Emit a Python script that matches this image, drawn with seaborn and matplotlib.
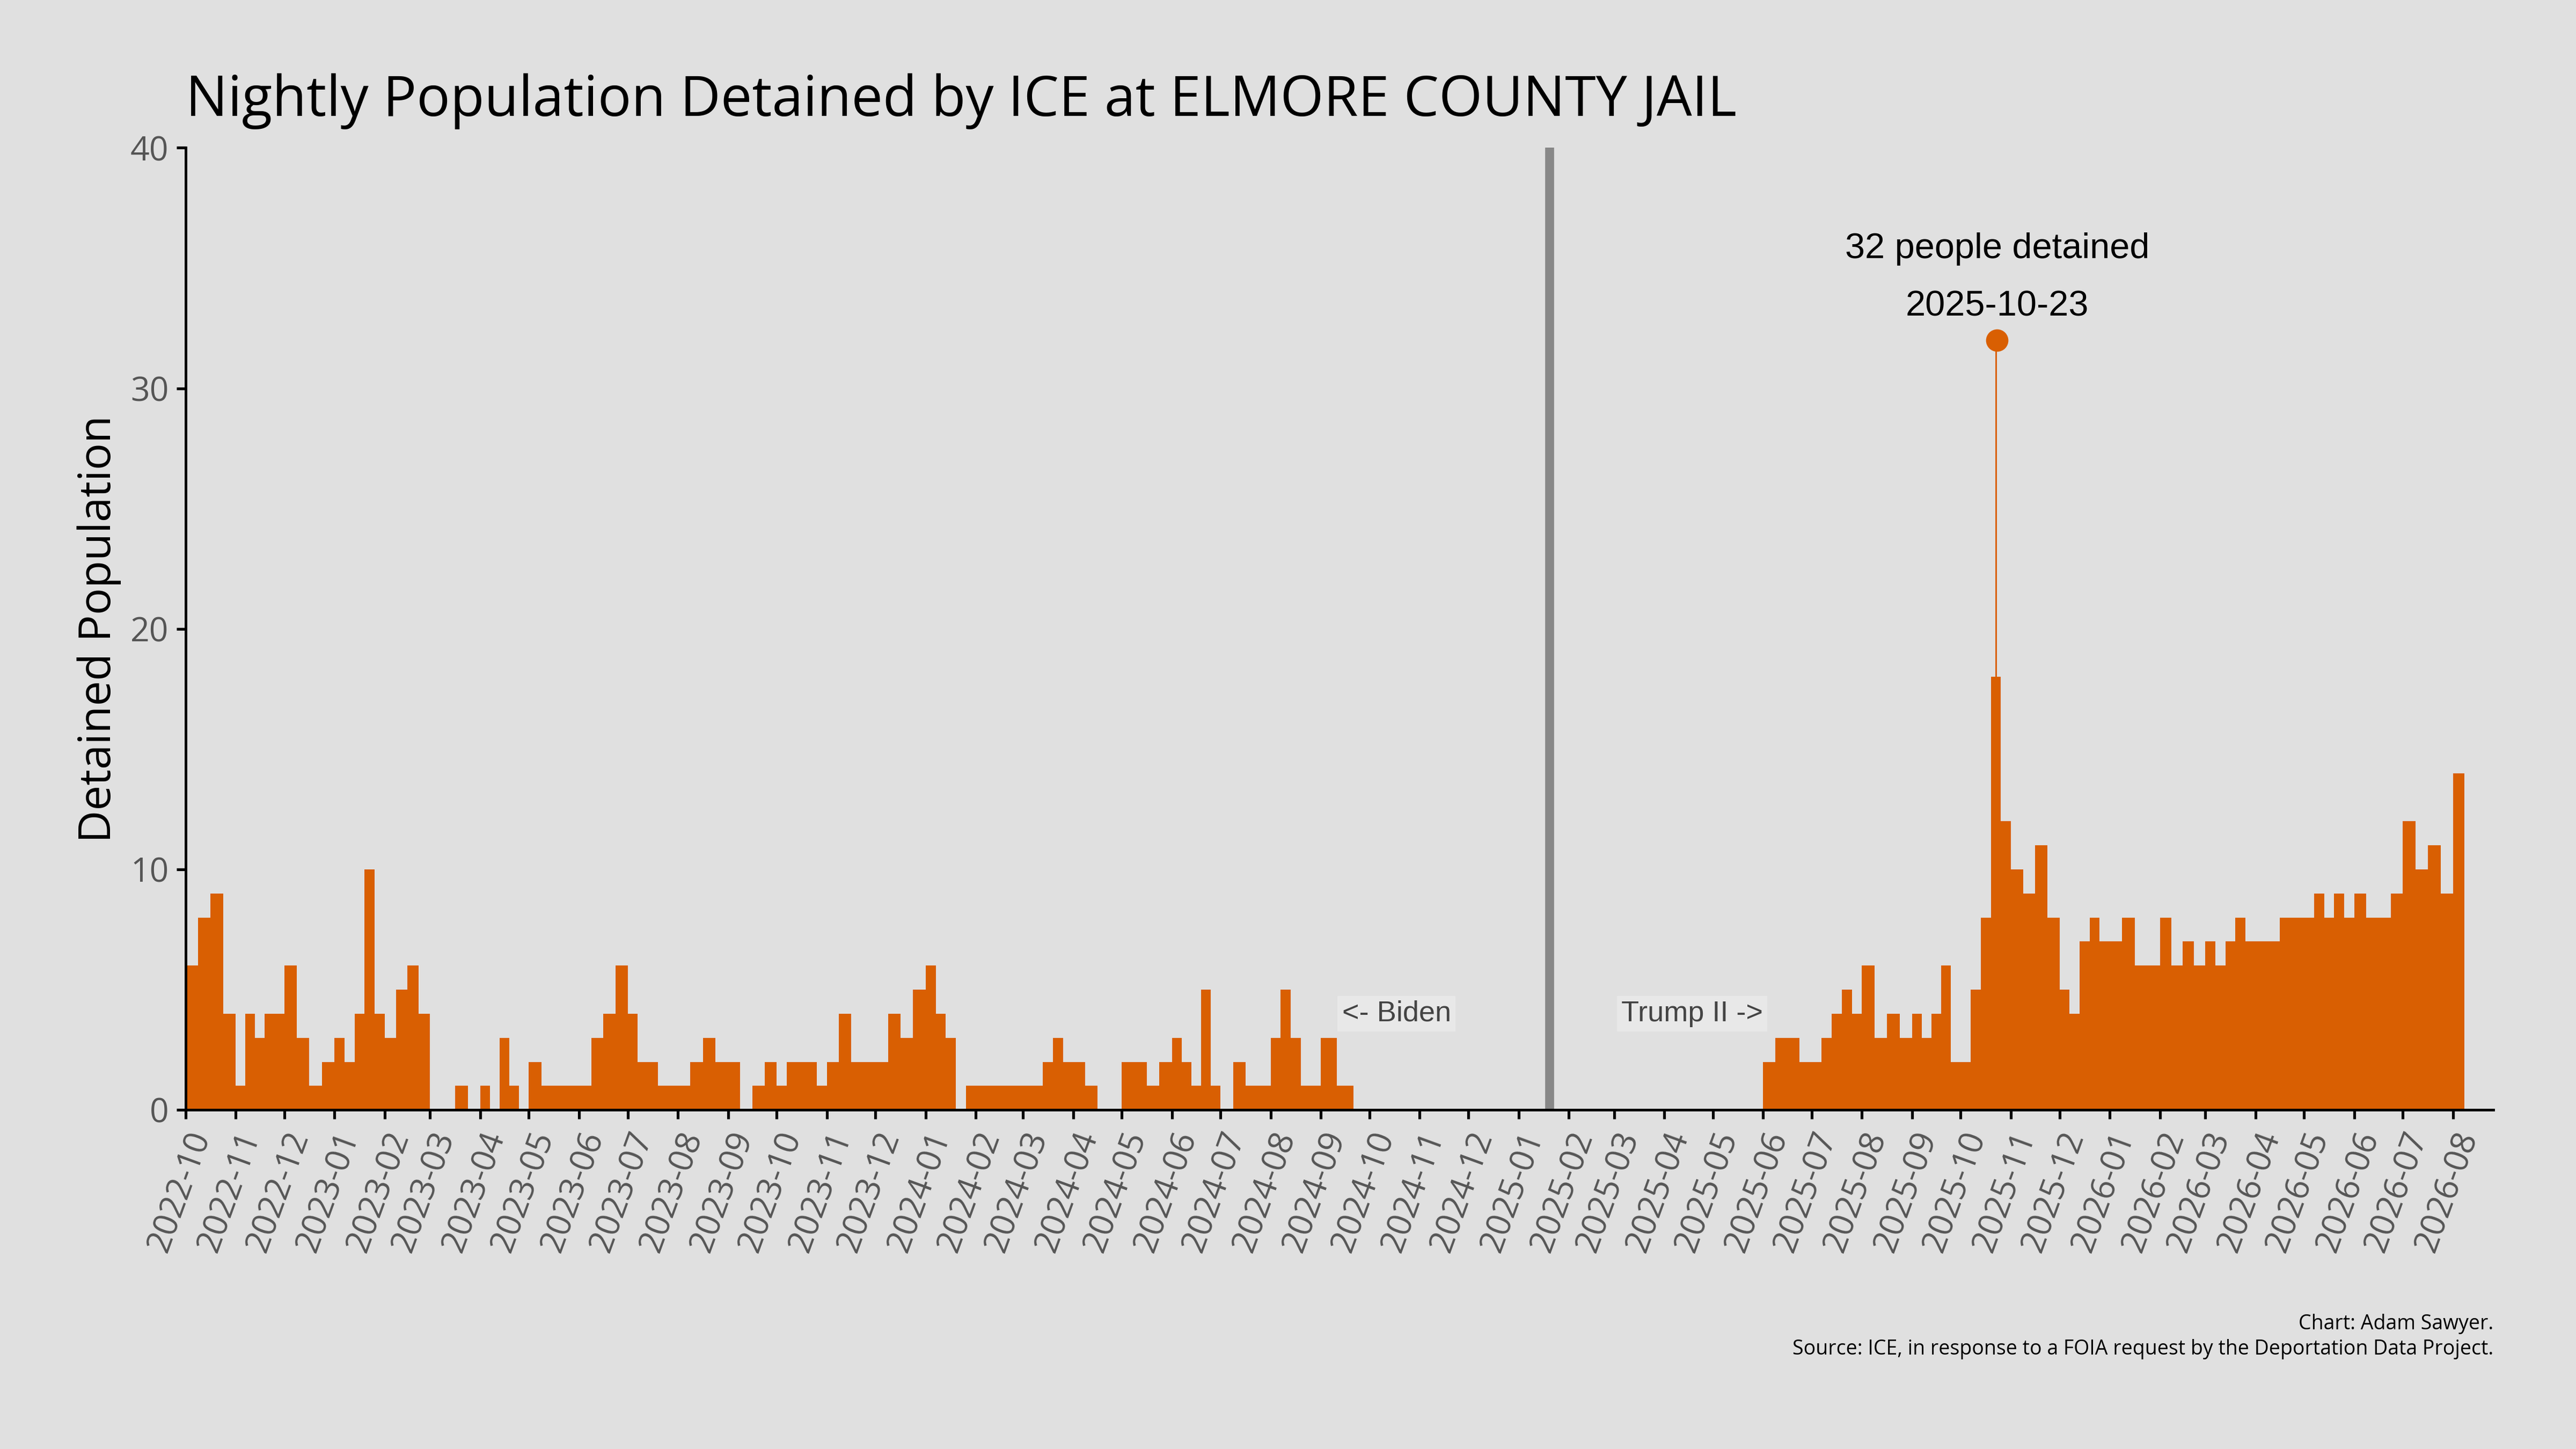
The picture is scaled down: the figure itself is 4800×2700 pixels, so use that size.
import matplotlib
matplotlib.use("Agg")
import matplotlib.pyplot as plt
import matplotlib.dates as mdates
import seaborn as sns
import pandas as pd
import numpy as np

months = ["2022-10","2022-11","2022-12","2023-01","2023-02","2023-03","2023-04","2023-05","2023-06",
          "2023-07","2023-08","2023-09","2023-10","2023-11","2023-12","2024-01","2024-02","2024-03",
          "2024-04","2024-05","2024-06","2024-07","2024-08","2024-09",
          "2025-06","2025-07","2025-08","2025-09","2025-10","2025-11","2025-12","2026-01","2026-02",
          "2026-03","2026-04","2026-05","2026-06","2026-07","2026-08"]
weekly = [[6,8,9,4],[1,4,3,4,4],[6,3,1,2],[3,2,4,10,4],[3,5,6,4],[0,0,1,0],[1,0,3,1,0],[2,1,1,1],
          [1,3,4,6],[4,2,2,1,1],[1,2,3,2],[2,0,1,2],[1,2,2,2,1],[2,4,2,2],[2,4,3,5],[6,4,3,0,1],
          [1,1,1,1],[1,1,2,3,2],[2,1,0,0],[2,2,1,2],[3,2,1,5,1],[0,2,1,1],[3,5,3,1,1],[3,1,0],
          [2,3,3,2],[2,3,4,5,4],[6,3,4,3],[4,3,4,6,2],[2,5,8,18,12],[10,9,11,8],[5,4,7,8,7],
          [7,8,6,6],[8,6,7,6],[7,6,7,8,7],[7,7,8,8],[8,9,8,9,8],[9,8,8,9],[12,10,11,9],[14]]
peak_date = "2025-10-23"
peak_value = 32

sns.set_theme(style="white")
plt.rcParams['font.family'] = ['Open Sans', 'DejaVu Sans']
plt.rcParams['text.color'] = 'black'
bg = "#e0e0e0"
orange = "#d95f02"

fig = plt.figure(figsize=(16, 9), dpi=300, facecolor=bg)
ax = fig.add_axes([0.072, 0.234, 0.896, 0.664], facecolor=bg)

xs, ws, hs = [], [], []
for m, vals in zip(months, weekly):
    start = pd.Timestamp(m + "-01")
    ndays = 7 * len(vals) if m == "2026-08" else start.days_in_month
    step = ndays / len(vals)
    for i, v in enumerate(vals):
        xs.append(mdates.date2num(start) + i * step)
        ws.append(step)
        hs.append(v)
ax.bar(xs, hs, width=ws, align="edge", color=orange, linewidth=0)
pk = mdates.date2num(pd.Timestamp(peak_date))
ax.bar([pk], [peak_value], width=1.0, color=orange, linewidth=0)
ax.plot([pk + 0.5], [peak_value], "o", color=orange, markersize=9)
ax.text(pk + 0.5, 35.8, "32 people detained", ha="center", va="center", fontsize=16,
        family=["Liberation Sans"], color="black")
ax.text(pk + 0.5, 33.4, "2025-10-23", ha="center", va="center", fontsize=16,
        family=["Liberation Sans"], color="black")

ax.axvline(mdates.date2num(pd.Timestamp("2025-01-20")), color="#888888", lw=4)
ax.text(mdates.date2num(pd.Timestamp("2024-09-14")), 4, "<- Biden", ha="left", va="center",
        fontsize=13, color="#444444", family=["Liberation Sans"],
        bbox=dict(facecolor="#e8e8e8", edgecolor="none", pad=2))
ax.text(mdates.date2num(pd.Timestamp("2025-06-01")), 4, "Trump II ->", ha="right", va="center",
        fontsize=13, color="#444444", family=["Liberation Sans"],
        bbox=dict(facecolor="#e8e8e8", edgecolor="none", pad=2))

ax.set_xlim(mdates.date2num(pd.Timestamp("2022-10-01")), mdates.date2num(pd.Timestamp("2026-08-26")))
ax.set_ylim(0, 40)
ax.set_yticks([0, 10, 20, 30, 40])
ax.xaxis.set_major_locator(mdates.MonthLocator())
ax.xaxis.set_major_formatter(mdates.DateFormatter("%Y-%m"))
for lab in ax.get_xticklabels():
    lab.set_rotation(70); lab.set_ha("right"); lab.set_rotation_mode("anchor")
ax.tick_params(axis="both", labelcolor="#555555", labelsize=15, length=4, left=True, bottom=True,
               color="black")
for s in ["top", "right"]:
    ax.spines[s].set_visible(False)
for s in ["left", "bottom"]:
    ax.spines[s].set_color("black"); ax.spines[s].set_linewidth(1.2)
ax.set_ylabel("Detained Population", fontsize=20, color="black")
ax.set_xlabel("")
fig.text(0.072, 0.93, "Nightly Population Detained by ICE at ELMORE COUNTY JAIL", fontsize=25,
         ha="left", va="center", color="black")
fig.text(0.968, 0.062, "Chart: Adam Sawyer.\nSource: ICE, in response to a FOIA request by the Deportation Data Project.",
         ha="right", va="bottom", fontsize=9, linespacing=1.3, color="black")
fig.savefig("out.png", dpi=300, facecolor=bg)
